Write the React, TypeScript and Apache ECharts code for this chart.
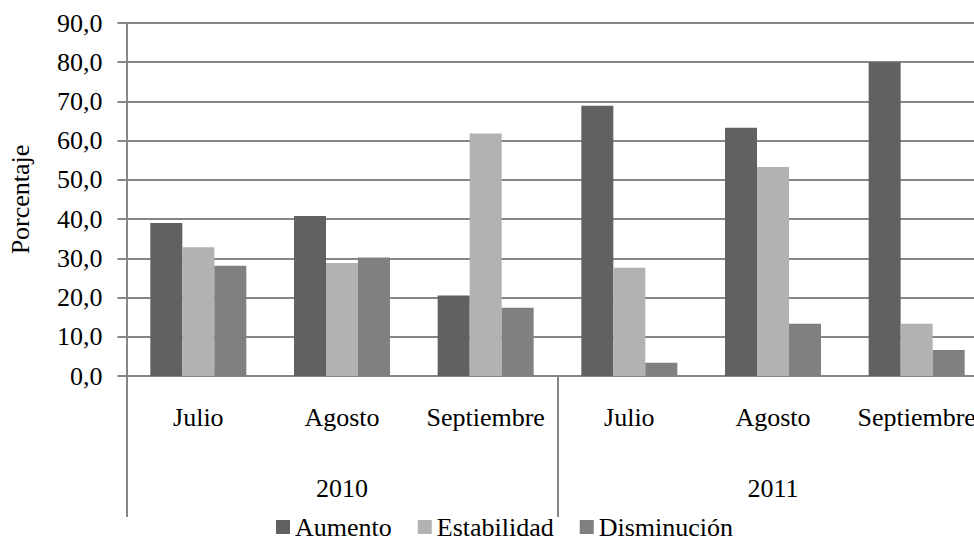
import React, { useEffect, useRef } from "react";
import * as echarts from "echarts";

const months = ["Julio", "Agosto", "Septiembre", "Julio", "Agosto", "Septiembre"];
const years = ["2010", "2011"];
const aumento = [39.0, 40.8, 20.5, 68.9, 63.3, 80.0];
const estabilidad = [32.8, 28.8, 61.8, 27.6, 53.3, 13.3];
const disminucion = [28.1, 30.2, 17.4, 3.4, 13.3, 6.6];
const seriesNames = ["Aumento", "Estabilidad", "Disminución"];
const yMin = 0;
const yMax = 90;
const yStep = 10;

const FONT = "Liberation Serif";
const GRAY = "#868686";

export default function App() {
  const ref = useRef<HTMLDivElement>(null);
  useEffect(() => {
    if (!ref.current) return;
    const chart = echarts.init(ref.current, undefined, { renderer: "svg" });
    const colors = ["#616161", "#b2b2b2", "#808080"];
    const values = [aumento, estabilidad, disminucion];
    chart.setOption({
      animation: false,
      textStyle: { fontFamily: FONT },
      grid: {
        left: 126.5,
        width: 862,
        top: 23,
        height: 353,
        containLabel: false,
        outerBoundsMode: "none",
      },
      legend: {
        left: 276,
        top: 514,
        padding: 0,
        itemWidth: 14,
        itemHeight: 14,
        itemGap: 26,
        icon: "rect",
        textStyle: { fontFamily: FONT, fontSize: 26, color: "#000" },
        data: seriesNames,
      },
      xAxis: [
        {
          type: "category",
          data: months,
          position: "bottom",
          axisLine: { show: true, lineStyle: { color: GRAY, width: 2 } },
          axisTick: { show: false },
          axisLabel: { fontFamily: FONT, fontSize: 26, color: "#000", margin: 28, interval: 0 },
        },
        {
          type: "category",
          data: years,
          position: "bottom",
          offset: 0,
          axisLine: { show: false },
          axisTick: { show: true, length: 141, lineStyle: { color: GRAY, width: 2 } },
          axisLabel: { fontFamily: FONT, fontSize: 26, color: "#000", margin: 99, interval: 0 },
          splitLine: { show: false },
        },
      ],
      yAxis: {
        type: "value",
        min: yMin,
        max: yMax,
        interval: yStep,
        name: "Porcentaje",
        nameLocation: "middle",
        nameGap: 93,
        nameRotate: 90,
        nameTextStyle: { fontFamily: FONT, fontSize: 26, color: "#000" },
        axisLine: { show: true, lineStyle: { color: GRAY, width: 2 } },
        axisTick: { show: true, length: 9, lineStyle: { color: GRAY, width: 2 } },
        axisLabel: {
          fontFamily: FONT,
          fontSize: 26,
          color: "#000",
          margin: 24,
          formatter: (v: number) => v.toFixed(1).replace(".", ","),
        },
        splitLine: { show: true, lineStyle: { color: GRAY, width: 2 } },
      },
      series: seriesNames.map((name, i) => ({
        name,
        type: "bar",
        xAxisIndex: 0,
        data: values[i],
        barWidth: 32,
        barGap: "0%",
        itemStyle: { color: colors[i] },
      })),
    });
    return () => chart.dispose();
  }, []);
  return (
    <div
      ref={ref}
      style={{ position: "fixed", left: 0, top: 0, width: 974, height: 540, background: "#fff" }}
    />
  );
}
